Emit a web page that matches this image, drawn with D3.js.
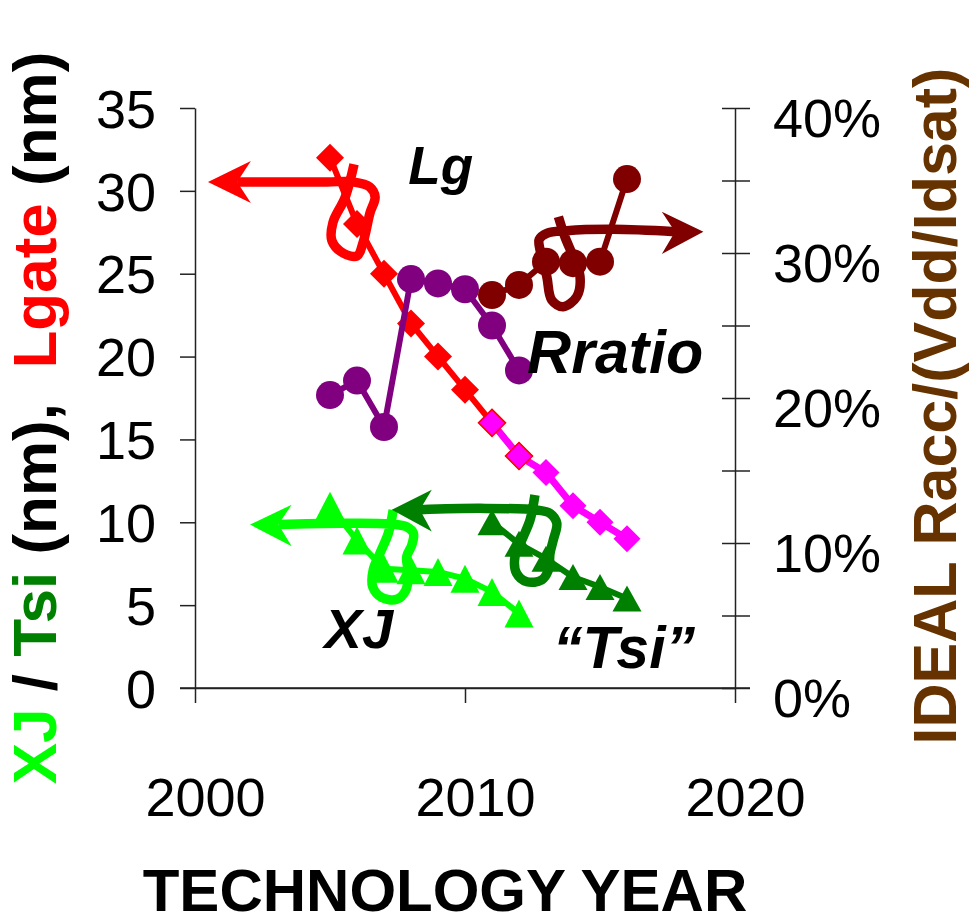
<!DOCTYPE html>
<html>
<head>
<meta charset="utf-8">
<script src="https://cdn.jsdelivr.net/npm/d3@7/dist/d3.min.js"></script>
<style>
  html, body { margin: 0; padding: 0; background: #fff; }
  svg { display: block; font-family: "Liberation Sans", Arial, sans-serif; }
</style>
</head>
<body>
<svg id="chart" width="969" height="924"></svg>
<script>
// ---- Gate length (nm), left axis ----
const lgYears = [2005, 2006, 2007, 2008, 2009, 2010, 2011, 2012];
const lgValues = [32, 28, 25, 22, 20, 18, 16, 14];
const lgProjYears = [2011, 2012, 2013, 2014, 2015, 2016];
const lgProjValues = [16, 14, 13, 11, 10, 9];

// ---- Junction depth XJ and body thickness Tsi (nm), left axis ----
const xjYears = [2005, 2006, 2007, 2008, 2009, 2010, 2011, 2012];
const xjValues = [11.0, 8.9, 7.2, 7.1, 7.0, 6.6, 5.8, 4.5];
const tsiYears = [2011, 2012, 2013, 2014, 2015, 2016];
const tsiValues = [10.0, 8.7, 7.8, 6.7, 6.1, 5.4];

// ---- Ideal Racc/(Vdd/Idsat) ratio, right axis ----
const rratioYears = [2005, 2006, 2007, 2008, 2009, 2010, 2011, 2012];
const rratioValues = [0.202, 0.212, 0.180, 0.282, 0.279, 0.275, 0.250, 0.219];
const rratioProjYears = [2011, 2012, 2013, 2014, 2015, 2016];
const rratioProjValues = [0.271, 0.278, 0.294, 0.293, 0.294, 0.351];

// ---- Axis ticks ----
const xTicks = [2000, 2010, 2020];
const leftTicks = [0, 5, 10, 15, 20, 25, 30, 35];
const rightTicks = [0, 0.05, 0.10, 0.15, 0.20, 0.25, 0.30, 0.35, 0.40];

// ---- Hand-drawn curly arrows pointing each series to its axis ([year, value]) ----
const lgArrowPath = [[2005.89, 31.6], [2005.56, 29.6], [2005.11, 28.1], [2005.07, 27.0], [2005.48, 26.25],
  [2006.0, 26.07], [2006.22, 26.85], [2006.48, 28.66], [2006.67, 29.63], [2006.48, 30.23],
  [2005.85, 30.54], [2004.89, 30.54], [2001.56, 30.54]];
const lgArrowHead = [[2000.48, 30.54], [2002.07, 31.8], [2001.56, 30.54], [2002.07, 29.27]];

const rrArrowPath = [[2013.46, 0.325], [2013.70, 0.3112], [2014.01, 0.2974], [2014.26, 0.2837], [2014.14, 0.2699],
  [2013.64, 0.2630], [2013.21, 0.2676], [2013.03, 0.2837], [2012.78, 0.3021], [2012.75, 0.3094],
  [2013.03, 0.3136], [2013.77, 0.3154], [2015.49, 0.3163], [2017.78, 0.3147]];
const rrArrowHead = [[2018.83, 0.3147], [2017.29, 0.3285], [2017.78, 0.3147], [2017.29, 0.2993]];

const xjArrowPath = [[2007.34, 10.74], [2007.16, 9.34], [2006.85, 8.13], [2006.60, 7.12], [2006.58, 6.11],
  [2006.91, 5.47], [2007.47, 5.35], [2007.81, 5.91], [2007.90, 6.92], [2007.84, 7.92],
  [2008.03, 8.63], [2008.09, 9.34], [2007.84, 9.73], [2007.22, 9.90], [2005.37, 9.94], [2003.09, 9.86]];
const xjArrowHead = [[2002.04, 9.86], [2003.58, 11.06], [2003.09, 9.86], [2003.58, 8.55]];

const tsiArrowPath = [[2012.59, 11.65], [2012.41, 10.14], [2012.16, 9.13], [2011.85, 7.92], [2011.91, 6.92],
  [2012.29, 6.41], [2012.84, 6.52], [2013.09, 7.12], [2013.15, 8.13], [2013.27, 8.93],
  [2013.40, 9.94], [2013.15, 10.54], [2012.66, 10.74], [2010.56, 10.84], [2008.33, 10.76]];
const tsiArrowHead = [[2007.29, 10.76], [2008.77, 11.97], [2008.33, 10.76], [2008.77, 9.45]];

const svg = d3.select("#chart");

const x = d3.scaleLinear().domain([2000, 2020]).range([195, 735]);
const yL = d3.scaleLinear().domain([0, 35]).range([688, 108]);
const yR = d3.scaleLinear().domain([0, 0.40]).range([688, 108]);

// ---- Axes ----
const axisColor = "#222";
const tickFont = 54;

const gLeft = svg.append("g").attr("transform", `translate(${x(2000)},0)`)
  .call(d3.axisLeft(yL).tickValues(leftTicks).tickSize(15).tickSizeOuter(0).tickPadding(24));
gLeft.selectAll("text").attr("y", 2);

const pct = d3.format(".0%");
const gRight = svg.append("g").attr("transform", `translate(${x(2020)},0)`)
  .call(d3.axisRight(yR).tickValues(rightTicks).tickSize(15).tickSizeOuter(0).tickPadding(23)
    .tickFormat(d => Math.round(d * 100) % 10 === 0 ? pct(d) : ""));
gRight.selectAll(".tick line").attr("x1", -13);
gRight.selectAll("text").attr("y", 11);

const gBottom = svg.append("g").attr("transform", `translate(0,${yL(0)})`)
  .call(d3.axisBottom(x).tickValues(xTicks).tickSize(15).tickSizeOuter(0).tickPadding(75)
    .tickFormat(d3.format("d")));
gBottom.selectAll("text").attr("x", 10);

// extend x axis line across the crossing ticks
svg.append("line").attr("x1", x(2000) - 15).attr("x2", x(2020) + 15)
  .attr("y1", yL(0)).attr("y2", yL(0));

svg.selectAll(".domain, .tick line, line").attr("stroke", axisColor).attr("stroke-width", 1.5);
svg.selectAll(".tick text").attr("font-size", tickFont).attr("fill", "#000")
  .attr("font-family", "'Liberation Sans', Arial, sans-serif");

// ---- Marker helpers ----
function diamondPath(cx, cy, r) {
  return `M${cx},${cy - r}L${cx + r},${cy}L${cx},${cy + r}L${cx - r},${cy}Z`;
}
function trianglePath(cx, cy, hw, hh) {
  return `M${cx},${cy - hh}L${cx + hw},${cy + hh}L${cx - hw},${cy + hh}Z`;
}

function drawLine(xs, vs, yScale, color, width) {
  svg.append("path")
    .datum(xs.map((d, i) => [d, vs[i]]))
    .attr("fill", "none").attr("stroke", color).attr("stroke-width", width)
    .attr("stroke-linejoin", "round")
    .attr("d", d3.line().x(d => x(d[0])).y(d => yScale(d[1])));
}

// Lgate
drawLine(lgYears, lgValues, yL, "#ff0000", 6);
svg.append("g").selectAll("path").data(lgYears.map((d, i) => [d, lgValues[i]])).join("path")
  .attr("d", d => diamondPath(x(d[0]), yL(d[1]), 14)).attr("fill", "#ff0000");

drawLine(lgProjYears, lgProjValues, yL, "#ff00ff", 7);
svg.append("g").selectAll("path").data(lgProjYears.map((d, i) => [d, lgProjValues[i]])).join("path")
  .attr("d", d => diamondPath(x(d[0]), yL(d[1]), 13.5)).attr("fill", "#ff00ff")
  .attr("stroke", d => lgYears.includes(d[0]) ? "#ff0000" : "none").attr("stroke-width", 1.5);

// XJ
drawLine(xjYears, xjValues, yL, "#00ff00", 6);
svg.append("g").selectAll("path").data(xjYears.map((d, i) => [d, xjValues[i]])).join("path")
  .attr("d", d => trianglePath(x(d[0]), yL(d[1]), 14.5, 14)).attr("fill", "#00ff00");

// Tsi
drawLine(tsiYears, tsiValues, yL, "#008000", 6);
svg.append("g").selectAll("path").data(tsiYears.map((d, i) => [d, tsiValues[i]])).join("path")
  .attr("d", d => trianglePath(x(d[0]), yL(d[1]), 14.5, 13)).attr("fill", "#008000");

// Rratio
drawLine(rratioYears, rratioValues, yR, "#800080", 6);
svg.append("g").selectAll("circle").data(rratioYears.map((d, i) => [d, rratioValues[i]])).join("circle")
  .attr("cx", d => x(d[0])).attr("cy", d => yR(d[1])).attr("r", 14).attr("fill", "#800080");

drawLine(rratioProjYears, rratioProjValues, yR, "#800000", 6);
svg.append("g").selectAll("circle").data(rratioProjYears.map((d, i) => [d, rratioProjValues[i]])).join("circle")
  .attr("cx", d => x(d[0])).attr("cy", d => yR(d[1])).attr("r", 14).attr("fill", "#800000");

// ---- Curly arrows ----
function drawArrow(path, head, yScale, color) {
  svg.append("path")
    .datum(path)
    .attr("fill", "none").attr("stroke", color).attr("stroke-width", 9.5)
    .attr("stroke-linejoin", "round").attr("stroke-linecap", "butt")
    .attr("d", d3.line().curve(d3.curveCatmullRom.alpha(0.5)).x(d => x(d[0])).y(d => yScale(d[1])));
  svg.append("path")
    .datum(head)
    .attr("fill", color)
    .attr("d", d3.line().x(d => x(d[0])).y(d => yScale(d[1])).curve(d3.curveLinearClosed));
}
drawArrow(lgArrowPath, lgArrowHead, yL, "#ff0000");
drawArrow(rrArrowPath, rrArrowHead, yR, "#800000");
drawArrow(xjArrowPath, xjArrowHead, yL, "#00ff00");
drawArrow(tsiArrowPath, tsiArrowHead, yL, "#008000");

// ---- Series labels ----
const seriesLabels = [
  { text: "Lg", year: 2007.9, value: 30.4, size: 53 },
  { text: "Rratio", year: 2012.3, value: 19.0, size: 61 },
  { text: "XJ", year: 2004.8, value: 2.4, size: 56 },
  { text: "\u201cTsi\u201d", year: 2013.26, value: 1.2, size: 59 }
];
svg.append("g").selectAll("text").data(seriesLabels).join("text")
  .attr("x", d => x(d.year)).attr("y", d => yL(d.value))
  .attr("font-size", d => d.size).attr("font-weight", "bold").attr("font-style", "italic")
  .attr("fill", "#000").text(d => d.text);

// ---- Axis titles ----
const leftTitle = svg.append("text")
  .attr("transform", "translate(56,418) rotate(-90)")
  .attr("text-anchor", "middle").attr("font-size", 62).attr("font-weight", "bold");
leftTitle.append("tspan").attr("fill", "#00ff00").text("XJ");
leftTitle.append("tspan").attr("fill", "#000").text(" / ");
leftTitle.append("tspan").attr("fill", "#008000").text("Tsi");
leftTitle.append("tspan").attr("fill", "#000").text(" (nm),\u00a0 ");
leftTitle.append("tspan").attr("fill", "#ff0000").text("Lgate");
leftTitle.append("tspan").attr("fill", "#000").text(" (nm)");

svg.append("text")
  .attr("transform", "translate(956,406) rotate(-90)")
  .attr("text-anchor", "middle").attr("font-size", 61).attr("font-weight", "bold")
  .attr("fill", "#663300").text("IDEAL Racc/(Vdd/Idsat)");

svg.append("text")
  .attr("x", 445).attr("y", 911)
  .attr("text-anchor", "middle").attr("font-size", 60).attr("font-weight", "bold")
  .attr("fill", "#000").text("TECHNOLOGY YEAR");
</script>
</body>
</html>
